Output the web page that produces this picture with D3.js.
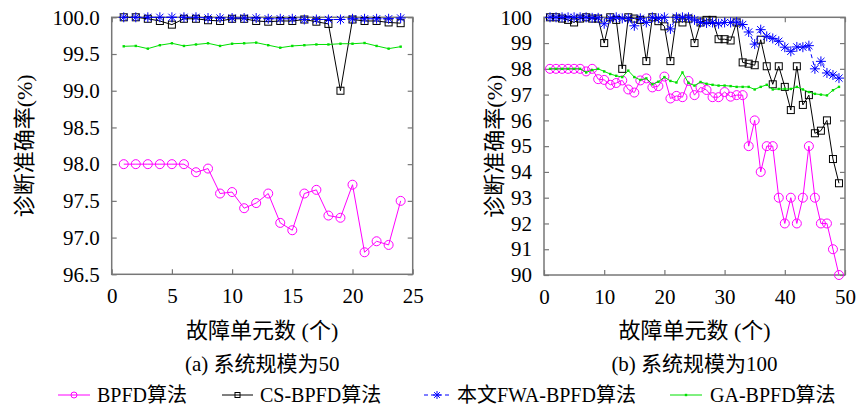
<!DOCTYPE html>
<html>
<head>
<meta charset="utf-8">
<script src="https://cdn.jsdelivr.net/npm/d3@7"></script>
<style>
  body { margin: 0; background: #fff; }
  text { font-family: "Liberation Serif", "Noto Sans CJK SC", serif; fill: #000; }
</style>
</head>
<body>
<div id="plot"></div>
<script>
// ---- data ----
let seriesNames = ['BPFD算法', 'CS-BPFD算法', '本文FWA-BPFD算法', 'GA-BPFD算法'];

// (a) system size 50, fault units 1..24
let xA = d3.range(1, 25);
let bpfdA = [98.0, 98.0, 98.0, 98.0, 98.0, 98.0, 97.89, 97.94, 97.6, 97.62, 97.4, 97.47,
    97.6, 97.2, 97.1, 97.6, 97.65, 97.3, 97.27, 97.72, 96.8, 96.95, 96.9, 97.5];
let csA = [100.0, 100.0, 99.98, 99.95, 99.9, 99.98, 99.98, 99.96, 99.95, 99.98, 99.98, 99.95,
    99.94, 99.95, 99.95, 99.97, 99.94, 99.91, 99.0, 99.97, 99.95, 99.95, 99.93, 99.92];
let fwaA = [100.0, 100.0, 100.0, 100.0, 100.0, 100.0, 100.0, 99.99, 99.99, 99.99, 99.99, 99.99,
    99.98, 99.98, 99.98, 99.97, 99.97, 99.97, 99.97, 99.98, 99.98, 99.98, 99.98, 99.99];
let gaA = [99.605, 99.61, 99.573, 99.62, 99.646, 99.61, 99.63, 99.646, 99.61, 99.64, 99.646, 99.655,
    99.62, 99.586, 99.61, 99.62, 99.63, 99.63, 99.64, 99.64, 99.65, 99.61, 99.573, 99.6];

// (b) system size 100, fault units 1..49
let xB = d3.range(1, 50);
let bpfdB = [98.0, 98.0, 98.0, 98.0, 98.0, 98.0, 97.9, 98.0, 97.6, 97.57, 97.38, 97.45,
    97.55, 97.2, 97.08, 97.55, 97.63, 97.28, 97.33, 97.7, 96.85, 96.95, 96.9, 97.53,
    96.98, 97.28, 97.18, 96.9, 96.9, 97.1, 96.92, 96.98, 96.98, 95.0, 96.0, 94.0,
    95.0, 95.0, 93.0, 92.0, 93.0, 92.0, 93.0, 95.0, 93.0, 92.0, 92.0, 91.0, 90.0];
let csB = [100.0, 100.0, 99.95, 99.9, 99.8, 99.95, 100.0, 99.95, 99.95, 99.0, 100.0, 99.9,
    98.0, 100.0, 99.95, 99.9, 98.3, 100.0, 99.85, 99.65, 98.3, 99.95, 99.8, 99.95,
    99.0, 99.8, 99.9, 99.9, 99.15, 99.15, 99.1, 99.8, 98.25, 98.2, 98.14, 99.13,
    98.1, 97.4, 98.1, 97.3, 96.4, 98.1, 96.6, 96.98, 95.5, 95.6, 96.0, 94.5, 93.56];
let fwaB = [100.0, 100.0, 100.0, 100.0, 100.0, 100.0, 100.0, 99.98, 99.98, 99.75, 99.96, 100.0,
    99.96, 99.96, 99.67, 99.96, 99.8, 100.0, 99.96, 100.0, 99.55, 100.0, 100.0, 100.0,
    99.9, 99.8, 99.78, 99.8, 99.75, 99.8, 99.8, 99.82, 99.72, 99.43, 98.96, 99.52,
    99.26, 99.18, 99.07, 98.84, 98.68, 98.85, 98.84, 98.9, 98.0, 98.29, 97.84, 97.76, 97.64];
let gaB = [98.0, 98.0, 98.0, 98.0, 98.0, 98.0, 97.86, 97.95, 98.0, 97.9, 97.8, 97.73,
    97.68, 97.93, 97.68, 97.57, 97.63, 97.4, 97.5, 97.68, 97.53, 97.47, 97.86, 97.45,
    97.35, 97.49, 97.42, 97.38, 97.35, 97.35, 97.33, 97.3, 97.3, 97.3, 97.2, 97.3,
    97.38, 97.2, 97.22, 97.22, 97.22, 97.3, 97.2, 97.1, 97.03, 97.0, 96.97, 97.17, 97.3];

let xTicksA = [0, 5, 10, 15, 20, 25];
let yTicksA = [96.5, 97.0, 97.5, 98.0, 98.5, 99.0, 99.5, 100.0];
let xTicksB = [0, 10, 20, 30, 40, 50];
let yTicksB = [90, 91, 92, 93, 94, 95, 96, 97, 98, 99, 100];

let colors = ['#ff00ff', '#000000', '#0000ff', '#00e000'];

let svgWidth = 858;
let svgHeight = 409;

let $svg = d3.select('#plot')
    .append('svg')
    .attr('width', svgWidth)
    .attr('height', svgHeight);

// asterisk path
function star(r) {
    let d = r * 0.72;
    return `M${-r},0L${r},0M0,${-r}L0,${r}M${-d},${-d}L${d},${d}M${-d},${d}L${d},${-d}`;
}

function drawMarker(g, kind, x, y, color, size) {
    if (kind === 0) {
        g.append('circle').attr('cx', x).attr('cy', y).attr('r', size)
            .attr('fill', 'none').attr('stroke', color).attr('stroke-width', 1);
    } else if (kind === 1) {
        g.append('rect').attr('x', x - size).attr('y', y - size)
            .attr('width', size * 2).attr('height', size * 2)
            .attr('fill', 'none').attr('stroke', color).attr('stroke-width', 1);
    } else if (kind === 2) {
        g.append('path').attr('d', star(size)).attr('transform', `translate(${x},${y})`)
            .attr('fill', 'none').attr('stroke', color).attr('stroke-width', 1);
    } else {
        g.append('rect').attr('x', x - 1.2).attr('y', y - 1.2)
            .attr('width', 2.4).attr('height', 2.4).attr('fill', color);
    }
}

function panel(opts) {
    let x = d3.scaleLinear().domain(opts.xDomain).range(opts.xRange);
    let y = d3.scaleLinear().domain(opts.yDomain).range(opts.yRange);
    let g = $svg.append('g');

    // axes with inward ticks
    let tickLen = 5;
    g.append('g').attr('transform', `translate(0,${opts.yRange[0]})`)
        .call(d3.axisBottom(x).tickValues(opts.xTicks).tickSize(-tickLen).tickPadding(14)
            .tickFormat(d3.format('d')));
    g.append('g').attr('transform', `translate(0,${opts.yRange[1]})`)
        .call(d3.axisTop(x).tickValues(opts.xTicks).tickSize(-tickLen).tickFormat(''));
    g.append('g').attr('transform', `translate(${opts.xRange[0]},0)`)
        .call(d3.axisLeft(y).tickValues(opts.yTicks).tickSize(-tickLen).tickPadding(12)
            .tickFormat(d3.format(opts.yFormat)));
    g.append('g').attr('transform', `translate(${opts.xRange[1]},0)`)
        .call(d3.axisRight(y).tickValues(opts.yTicks).tickSize(-tickLen).tickFormat(''));

    g.selectAll('.domain').remove();
    g.selectAll('g').attr('font-family', '"Liberation Serif", serif').attr('font-size', 21);
    g.selectAll('.tick line').attr('stroke', '#777').attr('stroke-width', 1.2);
    g.selectAll('.tick text')
        .style('font-family', '"Liberation Serif", serif')
        .style('font-size', '21px').attr('fill', '#000');

    g.append('rect')
        .attr('x', opts.xRange[0]).attr('y', opts.yRange[1])
        .attr('width', opts.xRange[1] - opts.xRange[0])
        .attr('height', opts.yRange[0] - opts.yRange[1])
        .attr('fill', 'none').attr('stroke', '#777').attr('stroke-width', 1.5);

    // series
    let line = d3.line().x(d => x(d[0])).y(d => y(d[1]));
    opts.series.forEach((vals, si) => {
        let pts = opts.xs.map((xv, i) => [xv, vals[i]]);
        g.append('path').datum(pts).attr('d', line)
            .attr('fill', 'none').attr('stroke', colors[si]).attr('stroke-width', 1)
            .attr('stroke-dasharray', si === 2 ? '4,3' : null);
        let mg = g.append('g');
        let size = [4.5, 3.5, 5, 0][si];
        pts.forEach(p => drawMarker(mg, si, x(p[0]), y(p[1]), colors[si], size));
    });

    // labels
    let cx = (opts.xRange[0] + opts.xRange[1]) / 2;
    $svg.append('text')
        .attr('transform', `translate(${opts.yLabelX},${(opts.yRange[0] + opts.yRange[1]) / 2}) rotate(-90)`)
        .attr('text-anchor', 'middle').attr('dominant-baseline', 'central')
        .style('font-size', '22px').text('诊断准确率(%)');
    $svg.append('text')
        .attr('x', cx).attr('y', 330)
        .attr('text-anchor', 'middle').attr('dominant-baseline', 'central')
        .style('font-size', '22px').text('故障单元数 (个)');
    $svg.append('text')
        .attr('x', cx).attr('y', 364)
        .attr('text-anchor', 'middle').attr('dominant-baseline', 'central')
        .style('font-size', '21px').text(opts.caption);
}

panel({
    xDomain: [0, 25], xRange: [111.7, 412.7],
    yDomain: [96.5, 100], yRange: [274.3, 17.3],
    xTicks: xTicksA, yTicks: yTicksA, yFormat: '.1f',
    xs: xA, series: [bpfdA, csA, fwaA, gaA],
    yLabelX: 24, caption: '(a) 系统规模为50'
});

panel({
    xDomain: [0, 50], xRange: [544, 845],
    yDomain: [90, 100], yRange: [275, 17.3],
    xTicks: xTicksB, yTicks: yTicksB, yFormat: 'd',
    xs: xB, series: [bpfdB, csB, fwaB, gaB],
    yLabelX: 494, caption: '(b) 系统规模为100'
});

// legend
let legendY = 395;
let legendItems = [
    { x0: 58, x1: 90, tx: 97 },
    { x0: 222, x1: 253, tx: 260 },
    { x0: 424, x1: 450, tx: 457 },
    { x0: 670, x1: 702, tx: 710 }
];
let $legend = $svg.append('g');
legendItems.forEach((it, i) => {
    $legend.append('line')
        .attr('x1', it.x0).attr('x2', it.x1).attr('y1', legendY).attr('y2', legendY)
        .attr('stroke', colors[i]).attr('stroke-width', 1)
        .attr('stroke-dasharray', i === 2 ? '4,3' : null);
    drawMarker($legend, i, (it.x0 + it.x1) / 2, legendY, colors[i], [3, 2.5, 4, 0][i]);
    $legend.append('text')
        .attr('x', it.tx).attr('y', legendY)
        .attr('dominant-baseline', 'central')
        .style('font-size', '20px')
        .text(seriesNames[i]);
});
</script>
</body>
</html>
